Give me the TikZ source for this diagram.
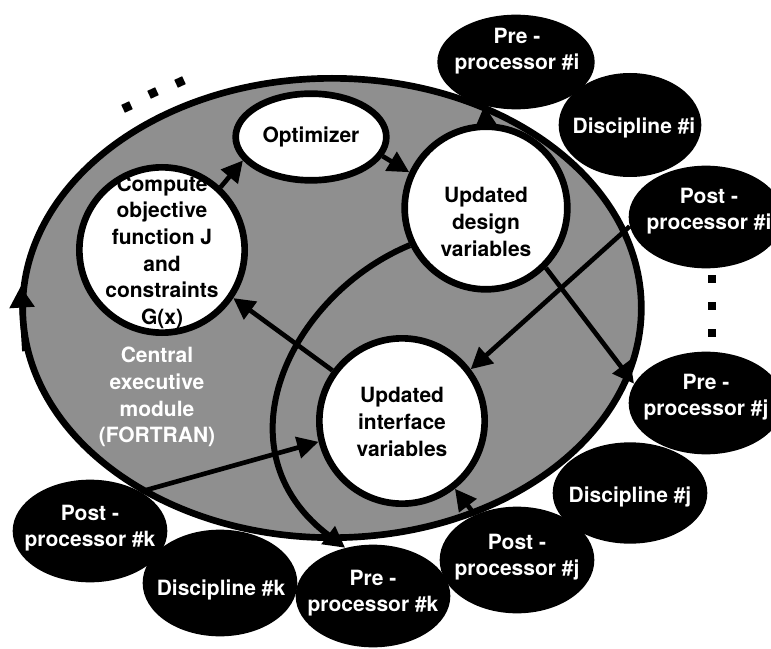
\documentclass[tikz,border=0pt]{standalone}
\usepackage{fontspec}
\setmainfont{TeX Gyre Heros}
\usetikzlibrary{arrows.meta,shapes.geometric}

\definecolor{cemgray}{RGB}{143,143,143}

\tikzset{
	bubble/.style={shape=circle,draw=black,fill=white,line width=5pt,inner sep=0pt},
	blob/.style={shape=ellipse,fill=black,inner sep=0pt,minimum width=116pt,minimum height=77pt},
	txt/.style={align=center,inner sep=0pt},
	wtxt/.style={txt,text=white},
	flow/.style={line width=3.5pt,-{Triangle[length=16pt,width=16pt]}},
	sqdot/.style={fill=black,inner sep=0pt,minimum size=6.5pt},
}

\begin{document}
\begin{tikzpicture}[x=0.75pt,y=-0.75pt,font=\bfseries\fontsize{15.75}{20}\selectfont]
	\useasboundingbox (0,0) rectangle (771,649);
	% executive module
	\node[shape=ellipse,draw=black,fill=cemgray,line width=5pt,minimum width=464pt,minimum height=344.5pt] (exec) at (332,308) {};
	\node[wtxt] (exectxt) at (157,397) {Central\\executive\\module\\(FORTRAN)};
	\draw[line width=4pt,-{Triangle[length=16pt,width=18pt]}] (exec.188) -- (exec.176);
	% processes inside the module
	\node[shape=ellipse,draw=black,fill=white,line width=5pt,inner sep=0pt,minimum width=113pt,minimum height=65pt] (opt) at (311,137) {Optimizer};
	\node[bubble,minimum size=124pt] (compute) at (162,250) {};
	\node[txt] (computetxt) at (162,252) {Compute\\objective\\function J\\and\\constraints\\G(x)};
	\node[bubble,minimum size=122pt] (design) at (486,208) {};
	\node[txt] (designtxt) at (486,222) {Updated\\design\\variables};
	\node[bubble,minimum size=124pt] (interface) at (402,421) {};
	\node[txt] (interfacetxt) at (402,422) {Updated\\interface\\variables};
	% discipline i
	\node[blob,minimum width=118pt,minimum height=71pt] (prei) at (516,62) {};
	\node[wtxt] (preitxt) at (517,51) {Pre -\\processor \#i};
	\node[blob,minimum width=107pt,minimum height=78pt] (disci) at (630,125) {};
	\node[wtxt] (discitxt) at (634,128) {Discipline \#i};
	\node[blob] (posti) at (706,217) {};
	\node[wtxt] (postitxt) at (709,211) {Post -\\processor \#i};
	% discipline j
	\node[blob] (prej) at (706,403) {};
	\node[wtxt] (prejtxt) at (706,397) {Pre -\\processor \#j};
	\node[blob,minimum height=76pt] (discj) at (630,493) {};
	\node[wtxt] (discjtxt) at (630,497) {Discipline \#j};
	\node[blob,minimum height=80pt] (postj) at (517,560) {};
	\node[wtxt] (postjtxt) at (517,557) {Post -\\processor \#j};
	% discipline k
	\node[blob] (prek) at (373,596) {};
	\node[wtxt] (prektxt) at (373,593) {Pre -\\processor \#k};
	\node[blob,minimum height=80pt] (disck) at (220,583) {};
	\node[wtxt] (discktxt) at (221,590) {Discipline \#k};
	\node[blob] (postk) at (90,531) {};
	\node[wtxt] (postktxt) at (90,528) {Post -\\processor \#k};
	% more disciplines
	\node[sqdot,rotate=25] (dotA) at (127,107) {};
	\node[sqdot,rotate=25] (dotB) at (153,93) {};
	\node[sqdot,rotate=25] (dotC) at (180,82) {};
	\node[sqdot,minimum size=6pt] (dotD) at (712,279) {};
	\node[sqdot,minimum size=6pt] (dotE) at (712,306) {};
	\node[sqdot,minimum size=6pt] (dotF) at (712,333) {};
	% data flow
	\path [flow] (compute.47) edge (opt.199);
	\path [flow] (opt.345) edge (design.155);
	\path [flow] (design.90) edge (prei.234);
	\path [flow] (design.-45) edge (prej.165);
	\path [flow] (posti.187) edge (interface.37);
	\path [flow] (interface.144) edge (compute.-34);
	\path [flow] (postk.38) edge (interface.194);
	\path [flow] (postj.133) edge (interface.-52);
	\draw [flow,line width=4.5pt] (design.206) .. controls (290,295) and (215,450) .. (prek.120);
\end{tikzpicture}
\end{document}
